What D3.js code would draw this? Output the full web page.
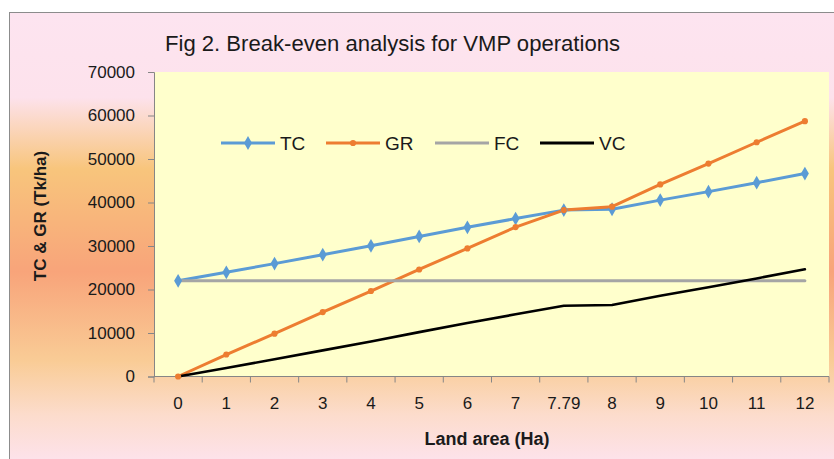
<!DOCTYPE html>
<html>
<head>
<meta charset="utf-8">
<script src="https://cdn.jsdelivr.net/npm/d3@7"></script>
<style>
  body { margin: 0; background: #fff; }
  svg text { font-family: "Liberation Sans", Arial, sans-serif; fill: #1a1a1a; }
</style>
</head>
<body>
<div id="chart"></div>
<script>
// Land area categories (Ha) and series values (Tk/ha)
var areas = ["0", "1", "2", "3", "4", "5", "6", "7", "7.79", "8", "9", "10", "11", "12"];
var tcValues = [22000, 23950, 25950, 28000, 30050, 32200, 34300, 36300, 38250, 38450, 40550, 42500, 44550, 46650];
var grValues = [0, 5050, 9850, 14800, 19650, 24600, 29450, 34350, 38250, 39050, 44150, 48950, 53850, 58700];
var fcValues = [22000, 22000, 22000, 22000, 22000, 22000, 22000, 22000, 22000, 22000, 22000, 22000, 22000, 22000];
var vcValues = [0, 1950, 3950, 6000, 8050, 10200, 12300, 14300, 16250, 16450, 18550, 20500, 22550, 24650];
var yTicks = [0, 10000, 20000, 30000, 40000, 50000, 60000, 70000];

var seriesNames = ["TC", "GR", "FC", "VC"];
var seriesValues = [tcValues, grValues, fcValues, vcValues];
var seriesColors = ["#5b9bd5", "#ed7d31", "#a5a5a5", "#000000"];

function init() {
    var W = 834, H = 459;
    var left = 154, top = 72, right = 829, bottom = 376.5;

    var svg = d3.select("#chart").append("svg")
        .attr("width", W)
        .attr("height", H);

    // chart area background gradient
    var defs = svg.append("defs");
    var grad = defs.append("linearGradient")
        .attr("id", "bg")
        .attr("x1", 0).attr("y1", 0).attr("x2", 0).attr("y2", 1);
    var stops = [[0, "#fde4f0"], [0.19, "#fde2ec"], [0.35, "#f8c57c"], [0.58, "#f8a47a"],
                 [0.78, "#f9cc96"], [0.9, "#fcdccc"], [1, "#fde2ea"]];
    stops.forEach(function(s) {
        grad.append("stop").attr("offset", s[0]).attr("stop-color", s[1]);
    });

    svg.append("rect")
        .attr("x", 9.5).attr("y", 12.5)
        .attr("width", W).attr("height", H - 12)
        .attr("fill", "url(#bg)")
        .attr("stroke", "#8c8c8c");

    // plot area
    svg.append("rect")
        .attr("x", left).attr("y", top)
        .attr("width", right - left).attr("height", bottom - top)
        .attr("fill", "#ffffcc");

    var xScale = d3.scaleBand()
        .domain(areas)
        .range([left, right]);

    var yScale = d3.scaleLinear()
        .domain([0, 70000])
        .range([bottom, top]);

    function xc(i) { return xScale(areas[i]) + xScale.bandwidth() / 2; }

    // y axis
    var yAxis = d3.axisLeft(yScale)
        .tickValues(yTicks)
        .tickFormat(d3.format("d"))
        .tickSize(6)
        .tickPadding(13);
    var gy = svg.append("g")
        .attr("transform", "translate(" + left + ",0)")
        .call(yAxis);
    gy.selectAll("text").attr("font-size", 17).attr("font-family", "Liberation Sans, Arial, sans-serif").attr("fill", "#1a1a1a");
    gy.select(".domain").attr("stroke", "#868686");
    gy.selectAll(".tick line").attr("stroke", "#868686");

    // x axis: ticks at category boundaries
    var gx = svg.append("g")
        .attr("transform", "translate(0," + bottom + ")");
    gx.append("line")
        .attr("x1", left).attr("x2", right)
        .attr("stroke", "#868686");
    var bounds = areas.map(function(a) { return xScale(a); }).concat([right]);
    gx.selectAll("line.tick")
        .data(bounds)
        .enter().append("line")
        .attr("class", "tick")
        .attr("x1", function(d) { return d; })
        .attr("x2", function(d) { return d; })
        .attr("y1", 0).attr("y2", 6)
        .attr("stroke", "#868686");
    gx.selectAll("text")
        .data(areas)
        .enter().append("text")
        .attr("x", function(d, i) { return xc(i); })
        .attr("y", 32)
        .attr("text-anchor", "middle")
        .attr("font-size", 17)
        .text(function(d) { return d; });

    // series lines
    var line = d3.line()
        .x(function(d, i) { return xc(i); })
        .y(function(d) { return yScale(d); });

    seriesValues.forEach(function(vals, k) {
        svg.append("path")
            .datum(vals)
            .attr("d", line)
            .attr("fill", "none")
            .attr("stroke", seriesColors[k])
            .attr("stroke-width", k == 3 ? 2.6 : 3)
            .attr("stroke-linejoin", "round")
            .attr("stroke-linecap", "round");
    });

    var diamond = d3.symbol().type(d3.symbolDiamond).size(55);
    var circle = d3.symbol().type(d3.symbolCircle).size(30);

    svg.append("g").selectAll("path")
        .data(tcValues)
        .enter().append("path")
        .attr("d", diamond)
        .attr("transform", function(d, i) { return "translate(" + xc(i) + "," + yScale(d) + ")"; })
        .attr("fill", seriesColors[0]);

    svg.append("g").selectAll("path")
        .data(grValues)
        .enter().append("path")
        .attr("d", circle)
        .attr("transform", function(d, i) { return "translate(" + xc(i) + "," + yScale(d) + ")"; })
        .attr("fill", seriesColors[1]);

    // legend
    var legX = [221, 326, 435, 540];
    var legY = 143;
    seriesNames.forEach(function(name, k) {
        var g = svg.append("g").attr("transform", "translate(" + legX[k] + "," + legY + ")");
        g.append("line")
            .attr("x1", 0).attr("x2", 54)
            .attr("stroke", seriesColors[k])
            .attr("stroke-width", 3);
        if (k == 0) g.append("path").attr("d", diamond).attr("transform", "translate(27,0)").attr("fill", seriesColors[0]);
        if (k == 1) g.append("path").attr("d", circle).attr("transform", "translate(27,0)").attr("fill", seriesColors[1]);
        g.append("text")
            .attr("x", 59).attr("y", 7)
            .attr("font-size", 19)
            .text(name);
    });

    // title
    svg.append("text")
        .attr("x", 165).attr("y", 51)
        .attr("font-size", 22)
        .attr("textLength", 455)
        .attr("lengthAdjust", "spacingAndGlyphs")
        .text("Fig 2. Break-even analysis for VMP operations");

    // axis titles
    svg.append("text")
        .attr("transform", "translate(46,216) rotate(-90)")
        .attr("text-anchor", "middle")
        .attr("font-size", 17)
        .attr("font-weight", "bold")
        .text("TC & GR (Tk/ha)");

    svg.append("text")
        .attr("x", 487).attr("y", 445)
        .attr("text-anchor", "middle")
        .attr("font-size", 18)
        .attr("font-weight", "bold")
        .text("Land area (Ha)");
}

window.onload = init;
</script>
</body>
</html>
